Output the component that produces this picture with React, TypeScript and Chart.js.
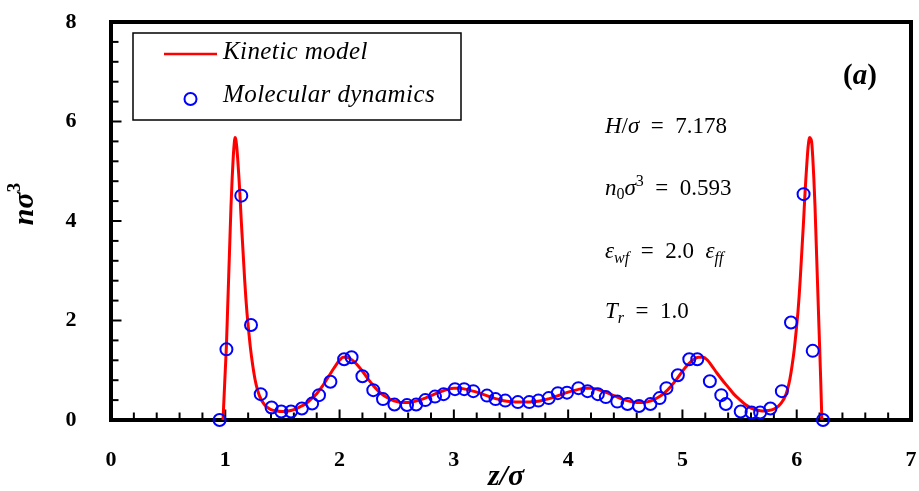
import React, { useEffect, useRef } from "react";
import { Chart, registerables } from "chart.js";

Chart.register(...registerables);

// Kinetic model curve (z/σ, nσ³)
const kineticZ = [
  0.98, 0.99, 1.0, 1.01, 1.02, 1.03, 1.04, 1.05, 1.06, 1.07, 1.08, 1.085, 1.09, 1.1, 1.11, 1.12, 1.13, 1.14, 1.15,
  1.16, 1.17, 1.18, 1.19, 1.2, 1.22, 1.24, 1.26, 1.28, 1.3, 1.33, 1.36, 1.4, 1.45, 1.5, 1.55, 1.6, 1.65, 1.7, 1.75,
  1.8, 1.85, 1.9, 1.95, 2.0, 2.03, 2.06, 2.1, 2.15, 2.2, 2.25, 2.3, 2.35, 2.4, 2.45, 2.5, 2.55, 2.6, 2.65, 2.7, 2.75,
  2.8, 2.85, 2.9, 2.95, 3.0, 3.05, 3.1, 3.15, 3.2, 3.25, 3.3, 3.35, 3.4, 3.45, 3.5, 3.55, 3.6, 3.65, 3.7, 3.75, 3.8,
  3.85, 3.9, 3.95, 4.0, 4.05, 4.1, 4.15, 4.2, 4.25, 4.3, 4.35, 4.4, 4.45, 4.5, 4.55, 4.6, 4.65, 4.7, 4.75, 4.8, 4.85,
  4.9, 4.95, 5.0, 5.05, 5.1, 5.14, 5.18, 5.22, 5.26, 5.3, 5.35, 5.4, 5.45, 5.5, 5.55, 5.6, 5.65, 5.7, 5.75, 5.8, 5.84,
  5.87, 5.9, 5.92, 5.94, 5.96, 5.98, 6.0, 6.01, 6.02, 6.03, 6.04, 6.05, 6.06, 6.07, 6.08, 6.09, 6.1, 6.11, 6.115, 6.12,
  6.13, 6.14, 6.15, 6.16, 6.17, 6.18, 6.19, 6.2, 6.21, 6.22,
];
const kineticN = [
  0.0, 0.5, 1.0, 1.5, 2.2, 2.9, 3.6, 4.3, 4.85, 5.3, 5.6, 5.68, 5.66, 5.5, 5.2, 4.85, 4.45, 4.0, 3.6,
  3.2, 2.8, 2.45, 2.15, 1.9, 1.45, 1.1, 0.82, 0.62, 0.48, 0.35, 0.27, 0.21, 0.18, 0.17, 0.18, 0.21, 0.26, 0.32, 0.42,
  0.53, 0.68, 0.86, 1.04, 1.2, 1.26, 1.26, 1.22, 1.12, 0.98, 0.82, 0.68, 0.56, 0.47, 0.41, 0.37, 0.35, 0.35, 0.37, 0.4, 0.44,
  0.49, 0.54, 0.58, 0.62, 0.64, 0.64, 0.62, 0.59, 0.56, 0.52, 0.48, 0.44, 0.41, 0.38, 0.37, 0.36, 0.36, 0.36, 0.37, 0.38, 0.41,
  0.44, 0.48, 0.52, 0.56, 0.59, 0.62, 0.64, 0.64, 0.62, 0.58, 0.54, 0.49, 0.44, 0.4, 0.37, 0.35, 0.35, 0.37, 0.41, 0.47, 0.56,
  0.68, 0.82, 0.98, 1.12, 1.22, 1.26, 1.26, 1.2, 1.08, 0.95, 0.8, 0.66, 0.52, 0.41, 0.31, 0.24, 0.2, 0.18, 0.19, 0.22, 0.28,
  0.36, 0.48, 0.62, 0.82, 1.1, 1.45, 1.9, 2.15, 2.45, 2.8, 3.2, 3.6, 4.0, 4.45, 4.85, 5.2, 5.5, 5.66, 5.68, 5.66,
  5.6, 5.3, 4.85, 4.3, 3.6, 2.9, 2.2, 1.5, 0.8, 0.0,
];

// Molecular dynamics points (z/σ, nσ³)
const mdZ = [
  0.95, 1.01, 1.14, 1.225, 1.31, 1.405, 1.49, 1.575, 1.67, 1.76, 1.82, 1.92, 2.04, 2.105, 2.2, 2.295, 2.38, 2.48,
  2.59, 2.67, 2.75, 2.835, 2.91, 3.01, 3.09, 3.17, 3.29, 3.365, 3.45, 3.56, 3.66, 3.74, 3.83, 3.91, 3.99, 4.09, 4.17,
  4.26, 4.33, 4.43, 4.52, 4.62, 4.72, 4.8, 4.86, 4.96, 5.06, 5.13, 5.24, 5.34, 5.38, 5.51, 5.605, 5.68, 5.77, 5.87,
  5.95, 6.06, 6.14, 6.23,
];
const mdN = [
  0.0, 1.42, 4.51, 1.91, 0.52, 0.25, 0.17, 0.17, 0.23, 0.33, 0.5, 0.77, 1.22, 1.26, 0.88, 0.6, 0.42, 0.31,
  0.3, 0.31, 0.4, 0.47, 0.52, 0.62, 0.62, 0.58, 0.49, 0.42, 0.39, 0.36, 0.36, 0.39, 0.44, 0.54, 0.55, 0.64, 0.58,
  0.52, 0.46, 0.37, 0.32, 0.28, 0.32, 0.44, 0.64, 0.9, 1.22, 1.22, 0.78, 0.5, 0.32, 0.17, 0.15, 0.15, 0.23, 0.58,
  1.96, 4.54, 1.39, 0.0,
];

const X_MIN = 0, X_MAX = 7, X_STEP = 1, X_MINOR = 0.2;
const Y_MIN = 0, Y_MAX = 8, Y_STEP = 2, Y_MINOR = 0.4;

const SERIF = '"Liberation Serif", "Times New Roman", serif';

type Piece = { t: string; f: string; dy?: number };

function drawRich(ctx: CanvasRenderingContext2D, x: number, y: number, pieces: Piece[], align: "left" | "center" = "left") {
  let w = 0;
  for (const p of pieces) {
    ctx.font = p.f;
    w += ctx.measureText(p.t).width;
  }
  let cx = align === "center" ? x - w / 2 : x;
  ctx.textAlign = "left";
  ctx.textBaseline = "alphabetic";
  for (const p of pieces) {
    ctx.font = p.f;
    ctx.fillText(p.t, cx, y + (p.dy || 0));
    cx += ctx.measureText(p.t).width;
  }
}

const decorPlugin = {
  id: "decor",
  beforeDatasetsDraw(chart: any) {
    const { ctx, chartArea: a, scales } = chart;
    const xs = scales.x, ys = scales.y;
    ctx.save();
    ctx.strokeStyle = "#000";
    ctx.lineWidth = 2;
    const nx = Math.round((X_MAX - X_MIN) / X_MINOR);
    for (let i = 0; i <= nx; i++) {
      const v = X_MIN + i * X_MINOR;
      const px = xs.getPixelForValue(v);
      const major = i % Math.round(X_STEP / X_MINOR) === 0;
      ctx.beginPath();
      ctx.moveTo(px, a.bottom);
      ctx.lineTo(px, a.bottom - (major ? 10.5 : 7.5));
      ctx.stroke();
    }
    const ny = Math.round((Y_MAX - Y_MIN) / Y_MINOR);
    for (let i = 0; i <= ny; i++) {
      const v = Y_MIN + i * Y_MINOR;
      const py = ys.getPixelForValue(v);
      const major = i % Math.round(Y_STEP / Y_MINOR) === 0;
      ctx.beginPath();
      ctx.moveTo(a.left, py);
      ctx.lineTo(a.left + (major ? 10.5 : 7.5), py);
      ctx.stroke();
    }
    ctx.lineWidth = 4;
    ctx.strokeRect(a.left, a.top, a.right - a.left, a.bottom - a.top);
    ctx.restore();
  },
  afterDraw(chart: any) {
    const { ctx } = chart;
    const ds = chart.data.datasets;
    ctx.save();
    ctx.fillStyle = "#000";
    // legend
    ctx.strokeStyle = "#000";
    ctx.lineWidth = 1.5;
    ctx.strokeRect(133, 33, 328, 87);
    ctx.strokeStyle = ds[0].borderColor;
    ctx.lineWidth = 2.5;
    ctx.beginPath();
    ctx.moveTo(164, 54);
    ctx.lineTo(217, 54);
    ctx.stroke();
    ctx.strokeStyle = ds[1].borderColor;
    ctx.lineWidth = 2;
    ctx.beginPath();
    ctx.arc(190.5, 99, 6, 0, Math.PI * 2);
    ctx.stroke();
    ctx.font = `italic 25px ${SERIF}`;
    ctx.textAlign = "left";
    ctx.textBaseline = "alphabetic";
    (ctx as any).letterSpacing = "0.4px";
    ctx.fillText(ds[0].label, 223, 59);
    ctx.fillText(ds[1].label, 223, 102);
    (ctx as any).letterSpacing = "0px";

    // annotations
    const I = `italic 23px ${SERIF}`;
    const R = `23px ${SERIF}`;
    const Is = `italic 16px ${SERIF}`;
    const Rs = `16px ${SERIF}`;
    drawRich(ctx, 605, 133, [
      { t: "H", f: I },
      { t: "/", f: R },
      { t: "σ", f: I },
      { t: "  =  7.178", f: R },
    ]);
    drawRich(ctx, 605, 195, [
      { t: "n", f: I },
      { t: "0", f: Rs, dy: 4 },
      { t: "σ", f: I },
      { t: "3", f: Rs, dy: -9 },
      { t: "  =  0.593", f: R },
    ]);
    drawRich(ctx, 605, 258, [
      { t: "ε", f: I },
      { t: "wf", f: Is, dy: 5 },
      { t: "  =  2.0  ", f: R },
      { t: "ε", f: I },
      { t: "ff", f: Is, dy: 5 },
    ]);
    drawRich(ctx, 605, 318, [
      { t: "T", f: I },
      { t: "r", f: Is, dy: 5 },
      { t: "  =  1.0", f: R },
    ]);
    drawRich(ctx, 843, 84, [
      { t: "(", f: `bold 29px ${SERIF}` },
      { t: "a", f: `bold italic 29px ${SERIF}` },
      { t: ")", f: `bold 29px ${SERIF}` },
    ]);

    // axis titles
    drawRich(ctx, 506, 485, [{ t: "z/σ", f: `bold italic 30px ${SERIF}` }], "center");
    ctx.translate(33, 204);
    ctx.rotate(-Math.PI / 2);
    drawRich(ctx, 0, 0, [
      { t: "nσ", f: `bold italic 30px ${SERIF}` },
      { t: "3", f: `bold 19px ${SERIF}`, dy: -13 },
    ], "center");
    ctx.restore();
  },
};

export default function App() {
  const ref = useRef<HTMLCanvasElement | null>(null);
  useEffect(() => {
    if (!ref.current) return;
    const tickFont = { family: SERIF, size: 22, weight: "bold" as const };
    const chart = new Chart(ref.current, {
      type: "scatter",
      data: {
        datasets: [
          {
            label: "Kinetic model",
            data: kineticZ.map((z, i) => ({ x: z, y: kineticN[i] })),
            showLine: true,
            borderColor: "#ff0000",
            backgroundColor: "#ff0000",
            borderWidth: 3,
            pointRadius: 0,
            cubicInterpolationMode: "monotone",
            clip: false as any,
            order: 2,
          } as any,
          {
            label: "Molecular dynamics",
            data: mdZ.map((z, i) => ({ x: z, y: mdN[i] })),
            borderColor: "#0000ff",
            backgroundColor: "rgba(0,0,0,0)",
            pointRadius: 6,
            pointBorderWidth: 2,
            borderWidth: 2,
            clip: false as any,
            order: 1,
          } as any,
        ],
      },
      options: {
        animation: false,
        responsive: false,
        devicePixelRatio: 1,
        layout: { autoPadding: false, padding: { left: 0, top: 22, right: 8, bottom: 0 } },
        plugins: { legend: { display: false }, tooltip: { enabled: false } },
        scales: {
          x: {
            type: "linear",
            min: X_MIN,
            max: X_MAX,
            ticks: { stepSize: X_STEP, color: "#000", font: tickFont, padding: 0, maxRotation: 0 },
            grid: { display: false, drawTicks: true, tickLength: 27 },
            border: { display: false },
            afterFit: (s: any) => { s.height = 71; },
          },
          y: {
            type: "linear",
            min: Y_MIN,
            max: Y_MAX,
            ticks: { stepSize: Y_STEP, color: "#000", font: tickFont, padding: 0 },
            grid: { display: false, drawTicks: true, tickLength: 34.5 },
            border: { display: false },
            afterFit: (s: any) => { s.width = 111; },
          },
        },
      } as any,
      plugins: [decorPlugin],
    });
    return () => chart.destroy();
  }, []);
  return (
    <div style={{ position: "fixed", left: 0, top: 0, width: 919, height: 491, background: "#fff" }}>
      <canvas ref={ref} width={919} height={491} style={{ display: "block" }} />
    </div>
  );
}
